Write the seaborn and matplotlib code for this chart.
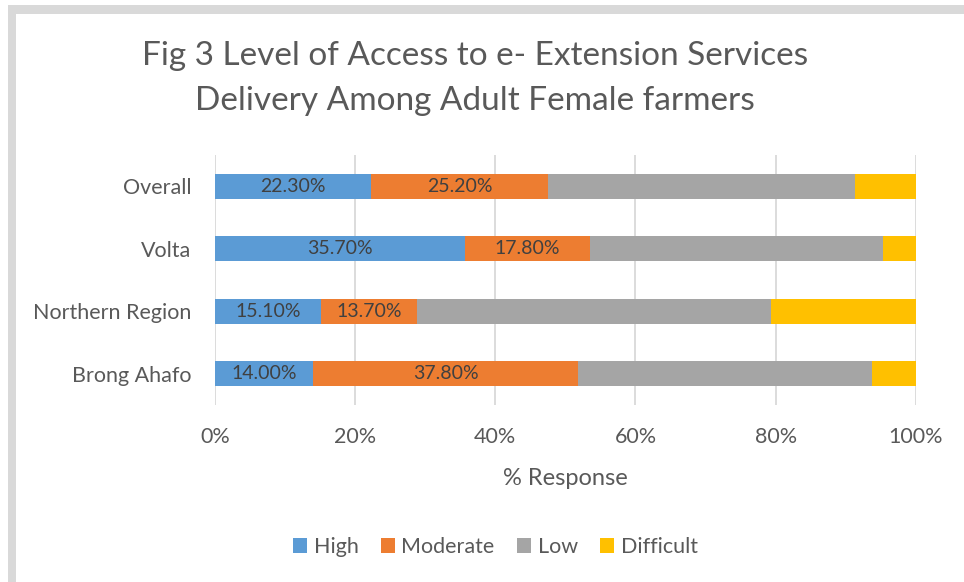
import matplotlib
matplotlib.use("Agg")
import matplotlib.pyplot as plt
import seaborn as sns
import pandas as pd
import numpy as np
from matplotlib.patches import Rectangle, Patch

categories = ["Overall", "Volta", "Northern Region", "Brong Ahafo"]
series_names = ["High", "Moderate", "Low", "Difficult"]
high = [22.3, 35.7, 15.1, 14.0]
moderate = [25.2, 17.8, 13.7, 37.8]
low = [43.8, 41.8, 50.6, 41.9]
difficult = [8.7, 4.7, 20.6, 6.3]
colors = ["#5B9BD5", "#ED7D31", "#A5A5A5", "#FFC000"]
labelled = ["High", "Moderate"]

sns.set_theme(style="white")
plt.rcParams['font.family'] = ['Lato', 'DejaVu Sans']
txt = "#595959"
fs = 15.5

df = pd.DataFrame({"cat": categories, "High": high, "Moderate": moderate,
                   "Low": low, "Difficult": difficult})
vals = df[series_names].to_numpy()
totals = vals.sum(axis=1, keepdims=True)
pct = vals / totals * 100
cum = np.cumsum(pct, axis=1)

fig = plt.figure(figsize=(9.64, 5.82), dpi=100)
ax = fig.add_axes([0.223, 0.304, 0.727, 0.430])

for i in range(len(series_names) - 1, -1, -1):
    sns.barplot(x=cum[:, i], y=categories, color=colors[i], orient="h",
                width=0.4, ax=ax, linewidth=0, saturation=1, zorder=3)

for i, name in enumerate(series_names):
    if name in labelled:
        for j in range(len(categories)):
            start = cum[j, i] - pct[j, i]
            ax.text(start + pct[j, i] / 2, j, f"{vals[j, i]:.2f}%", ha="center",
                    va="center", fontsize=14, color="#404040", zorder=5)

ax.set_xlim(0, 100)
ax.set_ylim(3.5, -0.5)
ax.set_xticks([0, 20, 40, 60, 80, 100])
ax.set_xticklabels([f"{t}%" for t in [0, 20, 40, 60, 80, 100]])
ax.grid(axis="x", color="#D9D9D9", linewidth=1.3, zorder=0)
ax.set_axisbelow(True)
for s in ax.spines.values():
    s.set_visible(False)
ax.tick_params(axis="both", length=0, labelsize=fs, labelcolor=txt)
ax.tick_params(axis="x", pad=16)
ax.tick_params(axis="y", pad=17)
ax.set_ylabel("")
ax.set_xlabel("% Response", fontsize=17, color=txt, labelpad=15)

fig.text(0.493, 0.865, "Fig 3 Level of Access to e- Extension Services\nDelivery Among Adult Female farmers",
         ha="center", va="center", fontsize=24, color=txt, linespacing=1.65)

handles = [Patch(facecolor=c, edgecolor="none") for c in colors]
fig.legend(handles, series_names, loc="center", bbox_to_anchor=(0.514, 0.060),
           ncol=4, frameon=False, fontsize=fs, labelcolor=txt,
           handlelength=0.65, handleheight=0.65, handletextpad=0.3, columnspacing=1.05)

W, H = 964, 582
fig.add_artist(Rectangle((8 / W, 1 - 14 / H), 1, 9 / H, transform=fig.transFigure,
                         facecolor="#D9D9D9", edgecolor="none"))
fig.add_artist(Rectangle((8 / W, 0), 8 / W, 1 - 5 / H, transform=fig.transFigure,
                         facecolor="#D9D9D9", edgecolor="none"))

fig.savefig("out.png", dpi=100, facecolor="white")
